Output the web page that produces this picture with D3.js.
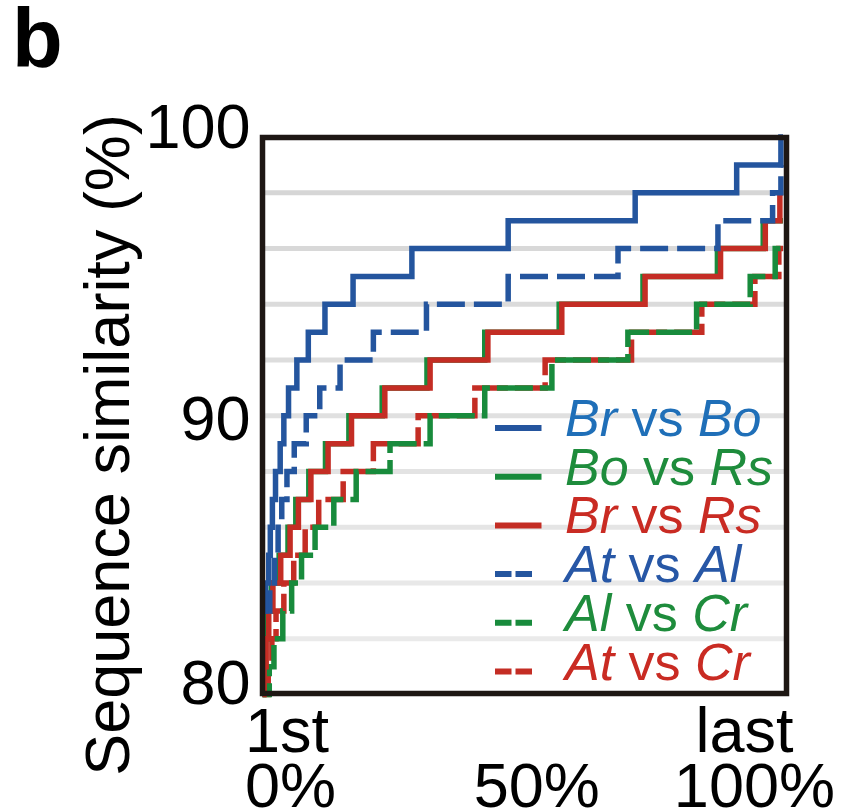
<!DOCTYPE html>
<html>
<head>
<meta charset="utf-8">
<script src="https://cdn.jsdelivr.net/npm/d3@7"></script>
<style>
  html, body { margin: 0; padding: 0; background: #fff; }
  svg { display: block; font-family: "Liberation Sans", Arial, Helvetica, sans-serif; }
</style>
</head>
<body>
<svg id="chart" width="844" height="812"></svg>
<script>
// Cumulative similarity curves: [percentile rank (%), sequence similarity (%)] at each step
const brBo = [[0,83],[0.6,84],[1.2,85],[1.5,86],[1.9,87],[2.5,88],[3.4,89],[4.1,90],[5.0,91],[6.6,92],[8.8,93],[12.0,94],[17.4,95],[28.7,96],[47.2,97],[71.6,98],[91.1,99],[99.6,100]];
const boRs = [[0,80],[0.2,81],[0.6,82],[1.0,83],[1.7,84],[3.2,85],[4.9,86],[6.4,87],[8.9,88],[12.1,89],[16.6,90],[23.0,91],[31.6,92],[42.7,93],[57.0,94],[73.1,95],[87.4,96],[96.2,97]];
const brRs = [[0,80],[0.3,81],[0.7,82],[1.2,83],[2.0,84],[3.5,85],[5.3,86],[6.9,87],[9.3,88],[12.6,89],[17.1,90],[23.5,91],[32.2,92],[43.3,93],[57.5,94],[73.5,95],[88.0,96],[96.6,97],[99.4,98]];
const atAl = [[0,83],[1.4,84],[2.3,85],[3.0,86],[3.7,87],[4.7,88],[6.1,89],[8.4,90],[11.0,91],[14.9,92],[21.3,93],[31.5,94],[47.2,95],[68.3,96],[87.5,97],[98.0,98],[99.6,99]];
const alCr = [[0,80],[1.3,81],[2.2,82],[3.9,83],[5.6,84],[7.5,85],[10.1,86],[13.7,87],[18.0,88],[24.5,89],[32.2,90],[42.7,91],[55.6,92],[70.2,93],[83.4,94],[93.7,95],[98.5,96]];
const atCr = [[0,80],[1.1,81],[1.8,82],[2.6,83],[4.1,84],[6.0,85],[8.2,86],[10.8,87],[15.5,88],[21.3,89],[29.9,90],[40.8,91],[54.3,92],[70.9,93],[84.4,94],[94.6,95],[99.2,96]];

const seriesLabels = ["Br vs Bo", "Bo vs Rs", "Br vs Rs", "At vs Al", "Al vs Cr", "At vs Cr"];
const yTicks = [80, 90, 100];
const gridValues = [82, 84, 86, 88, 90, 92, 94, 96, 98];
const pctTicks = [0, 50, 100];
const pctLabels = ["0%", "50%", "100%"];
const rankLabels = ["1st", "last"];
const yTitle = "Sequence similarity (%)";
const panelLetter = "b";

const BLUE = "#24559e", GREEN = "#188b3c", RED = "#c42d24";

const svg = d3.select("#chart");

const x = d3.scaleLinear().domain([0, 100]).range([262.5, 783]);
const y = d3.scaleLinear().domain([80, 100]).range([694.5, 137]);

// Horizontal grid bands, fading slightly toward the bottom
const gridColor = d3.scaleLinear().domain([80, 100]).range(["#ededed", "#d3d3d3"]);
svg.append("g").selectAll("line").data(gridValues).join("line")
  .attr("x1", x(0)).attr("x2", 786)
  .attr("y1", d => y(d)).attr("y2", d => y(d))
  .attr("stroke", d => gridColor(d))
  .attr("stroke-width", 5);

// Step curves
const line = d3.line()
  .x(d => x(d[0]))
  .y(d => y(d[1]))
  .curve(d3.curveStepAfter);

const withEnd = pts => pts.concat([[100, pts[pts.length - 1][1]]]);

const curves = [
  { data: atCr, color: RED,   dash: "36,7", offset: 0 },
  { data: alCr, color: GREEN, dash: "36,7", offset: 18 },
  { data: boRs, color: GREEN, dash: null },
  { data: brRs, color: RED,   dash: null },
  { data: atAl, color: BLUE,  dash: "28,9", offset: 0 },
  { data: brBo, color: BLUE,  dash: null }
];

const gLines = svg.append("g");
curves.forEach(c => {
  gLines.append("path")
    .attr("d", line(withEnd(c.data)))
    .attr("fill", "none")
    .attr("stroke", c.color)
    .attr("stroke-width", 5.5)
    .attr("stroke-linejoin", "miter")
    .attr("stroke-dasharray", c.dash)
    .attr("stroke-dashoffset", c.dash ? c.offset : null);
});

// Frame
svg.append("rect")
  .attr("x", 262.5).attr("y", 137.5)
  .attr("width", 786.5 - 262.5).attr("height", 693.5 - 137.5)
  .attr("fill", "none")
  .attr("stroke", "#1e1714")
  .attr("stroke-width", 5.5);

// Y axis labels
const yAxis = d3.axisLeft(y).tickValues(yTicks).tickSize(0).tickFormat(d3.format("d"));
const gy = svg.append("g").attr("transform", `translate(${x(0)},0)`).call(yAxis);
gy.select(".domain").remove();
gy.selectAll("text")
  .attr("x", -12)
  .attr("dy", d => d === 90 ? 23.5 : (d === 100 ? 10 : 8.5))
  .attr("font-size", 63)
  .attr("font-family", "Liberation Sans, Arial, sans-serif")
  .attr("fill", "#000");

// X axis: rank and percentile labels
const gx = svg.append("g").attr("font-size", 63).attr("fill", "#000");
gx.append("text").attr("x", x(0) - 17.5).attr("y", 751.5).attr("text-anchor", "start").text(rankLabels[0]);
gx.append("text").attr("x", x(100) - 87.5).attr("y", 751.5).attr("text-anchor", "start").text(rankLabels[1]);
gx.selectAll("text.pct").data(pctTicks).join("text")
  .attr("class", "pct")
  .attr("x", (d, i) => i === 0 ? x(d) - 17.5 : (i === 1 ? x(d) + 14 : x(d) + 52))
  .attr("y", 806.5)
  .attr("text-anchor", (d, i) => ["start", "middle", "end"][i])
  .text((d, i) => pctLabels[i]);

// Y axis title
svg.append("text")
  .attr("transform", "translate(128.5,445) rotate(-90)")
  .attr("text-anchor", "middle")
  .attr("font-size", 63)
  .attr("fill", "#000")
  .text(yTitle);

// Panel letter
svg.append("text")
  .attr("x", 12).attr("y", 67)
  .attr("font-size", 83)
  .attr("font-weight", "bold")
  .attr("fill", "#000")
  .text(panelLetter);

// Legend
const legendStyles = [
  { color: BLUE,  text: "#1f6fb8", dashed: false },
  { color: GREEN, text: "#1e8c3c", dashed: false },
  { color: RED,   text: "#c92b23", dashed: false },
  { color: BLUE,  text: "#2757a6", dashed: true },
  { color: GREEN, text: "#1e8c3c", dashed: true },
  { color: RED,   text: "#c92b23", dashed: true }
];
const legend = svg.append("g");
seriesLabels.forEach((label, i) => {
  const st = legendStyles[i];
  const ly = 428 + i * 48.7;
  legend.append("line")
    .attr("x1", 495).attr("x2", st.dashed ? 532 : 541.5)
    .attr("y1", ly).attr("y2", ly)
    .attr("stroke", st.color)
    .attr("stroke-width", 6)
    .attr("stroke-dasharray", st.dashed ? "16.5,4" : null);
  const [a, b] = label.split(" vs ");
  const t = legend.append("text")
    .attr("x", 565).attr("y", ly + 8)
    .attr("font-size", 52)
    .attr("fill", st.text);
  t.append("tspan").attr("font-style", "italic").text(a);
  t.append("tspan").text(" vs ");
  t.append("tspan").attr("font-style", "italic").text(b);
});
</script>
</body>
</html>
